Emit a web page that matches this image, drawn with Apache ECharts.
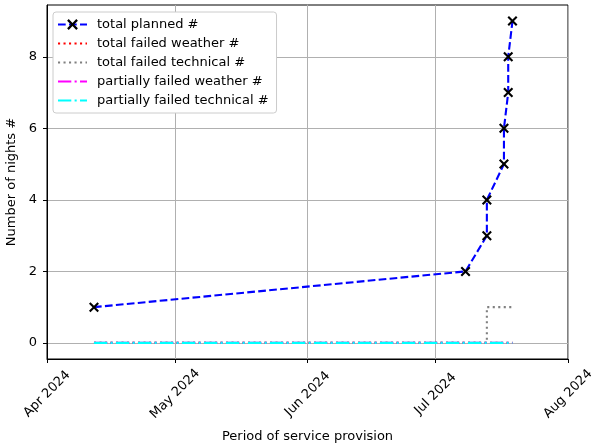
<!DOCTYPE html>
<html>
<head>
<meta charset="utf-8">
<script src="https://cdn.jsdelivr.net/npm/echarts@6/dist/echarts.min.js"></script>
<style>
  html, body { margin: 0; padding: 0; background: #fff; }
  #chart { width: 592px; height: 445px; }
</style>
</head>
<body>
<div id="chart"></div>
<script>
// data
var dates = ['2024-04-12', '2024-07-08', '2024-07-13', '2024-07-13', '2024-07-17',
             '2024-07-17', '2024-07-18', '2024-07-18', '2024-07-19'];
var totalPlanned = [1, 2, 3, 4, 5, 6, 7, 8, 9];
var totalFailedWeather = [0, 0, 0, 0, 0, 0, 0, 0, 0];
var totalFailedTechnical = [0, 0, 0, 1, 1, 1, 1, 1, 1];
var partFailedWeather = [0, 0, 0, 0, 0, 0, 0, 0, 0];
var partFailedTechnical = [0, 0, 0, 0, 0, 0, 0, 0, 0];
var monthTicks = ['2024-04-01', '2024-05-01', '2024-06-01', '2024-07-01', '2024-08-01'];
var yTicks = [0, 2, 4, 6, 8];
var monthNames = ['Jan', 'Feb', 'Mar', 'Apr', 'May', 'Jun', 'Jul', 'Aug', 'Sep', 'Oct', 'Nov', 'Dec'];

// dates as UTC milliseconds, shown on a value axis
function ms(s) { return new Date(s + 'T00:00:00Z').getTime(); }
function pairs(vals) {
  return dates.map(function (d, i) { return [ms(d), vals[i]]; });
}
var monthMs = monthTicks.map(ms);

var font = 'DejaVu Sans';
var crossPath = 'path://M1.5,0L5,3.5L8.5,0L10,1.5L6.5,5L10,8.5L8.5,10L5,6.5L1.5,10L0,8.5L3.5,5L0,1.5Z';
var noMark = { opacity: 0 };
var lw = 2.1;
var dashed = [7.7, 3.3];
var dotted = [2.1, 3.4];
var dashDot = [13.3, 3.3, 2.1, 3.3];

var chart = echarts.init(document.getElementById('chart'));
var option = {
  animation: false,
  textStyle: { fontFamily: font, color: '#000' },
  grid: {
    left: 47, right: 24, top: 5, bottom: 86,
    outerBoundsMode: 'none', containLabel: false,
    show: true, borderColor: '#000', borderWidth: 1
  },
  legend: {
    orient: 'vertical',
    left: 53, top: 12,
    padding: [6, 8, 6, 4],
    itemGap: 6,
    itemWidth: 29, itemHeight: 13.5,
    backgroundColor: '#fff',
    borderColor: '#cccccc', borderWidth: 1, borderRadius: 3,
    textStyle: { fontFamily: font, fontSize: 13, color: '#000', padding: [0, 0, 0, 5] },
    data: [
      { name: 'total planned #' },
      { name: 'total failed weather #', itemStyle: noMark },
      { name: 'total failed technical #', itemStyle: noMark },
      { name: 'partially failed weather #', itemStyle: noMark },
      { name: 'partially failed technical #', itemStyle: noMark }
    ]
  },
  xAxis: {
    type: 'value',
    min: monthMs[0],
    max: monthMs[monthMs.length - 1],
    name: 'Period of service provision',
    nameLocation: 'middle',
    nameGap: 71,
    nameTextStyle: { fontFamily: font, fontSize: 13, color: '#000' },
    axisLine: { onZero: false, lineStyle: { color: '#000', width: 1 } },
    axisTick: { show: true, length: 4, lineStyle: { color: '#000' }, customValues: monthMs },
    axisLabel: {
      rotate: 45, margin: 35, align: 'center', verticalAlign: 'middle',
      fontFamily: font, fontSize: 13, color: '#000',
      customValues: monthMs,
      formatter: function (v) {
        var d = new Date(v);
        return monthNames[d.getUTCMonth()] + ' ' + d.getUTCFullYear();
      }
    },
    splitLine: { show: true, lineStyle: { color: '#b0b0b0', width: 1 } }
  },
  yAxis: {
    type: 'value',
    min: -0.45,
    max: 9.45,
    name: 'Number of nights #',
    nameLocation: 'middle',
    nameGap: 21,
    nameTextStyle: { fontFamily: font, fontSize: 13, color: '#000' },
    axisLine: { show: true, onZero: false, lineStyle: { color: '#000', width: 1 } },
    axisTick: { show: true, length: 4, lineStyle: { color: '#000' }, customValues: yTicks },
    axisLabel: { fontFamily: font, fontSize: 13, color: '#000', margin: 10, customValues: yTicks },
    splitLine: { show: true, lineStyle: { color: '#b0b0b0', width: 1 } }
  },
  series: [
    {
      name: 'total planned #', type: 'line', data: pairs(totalPlanned),
      symbol: crossPath, symbolSize: 10,
      itemStyle: { color: '#000' },
      lineStyle: { color: '#0000ff', width: lw, type: dashed }
    },
    {
      name: 'total failed weather #', type: 'line', data: pairs(totalFailedWeather),
      showSymbol: false, symbol: 'none', itemStyle: { color: '#ff0000' },
      lineStyle: { color: '#ff0000', width: lw, type: dotted }
    },
    {
      name: 'total failed technical #', type: 'line', data: pairs(totalFailedTechnical),
      showSymbol: false, symbol: 'none', itemStyle: { color: '#808080' },
      lineStyle: { color: '#808080', width: lw, type: dotted }
    },
    {
      name: 'partially failed weather #', type: 'line', data: pairs(partFailedWeather),
      showSymbol: false, symbol: 'none', itemStyle: { color: '#ff00ff' },
      lineStyle: { color: '#ff00ff', width: lw, type: dashDot }
    },
    {
      name: 'partially failed technical #', type: 'line', data: pairs(partFailedTechnical),
      showSymbol: false, symbol: 'none', itemStyle: { color: '#00ffff' },
      lineStyle: { color: '#00ffff', width: lw, type: dashDot }
    }
  ]
};
chart.setOption(option);
</script>
</body>
</html>
